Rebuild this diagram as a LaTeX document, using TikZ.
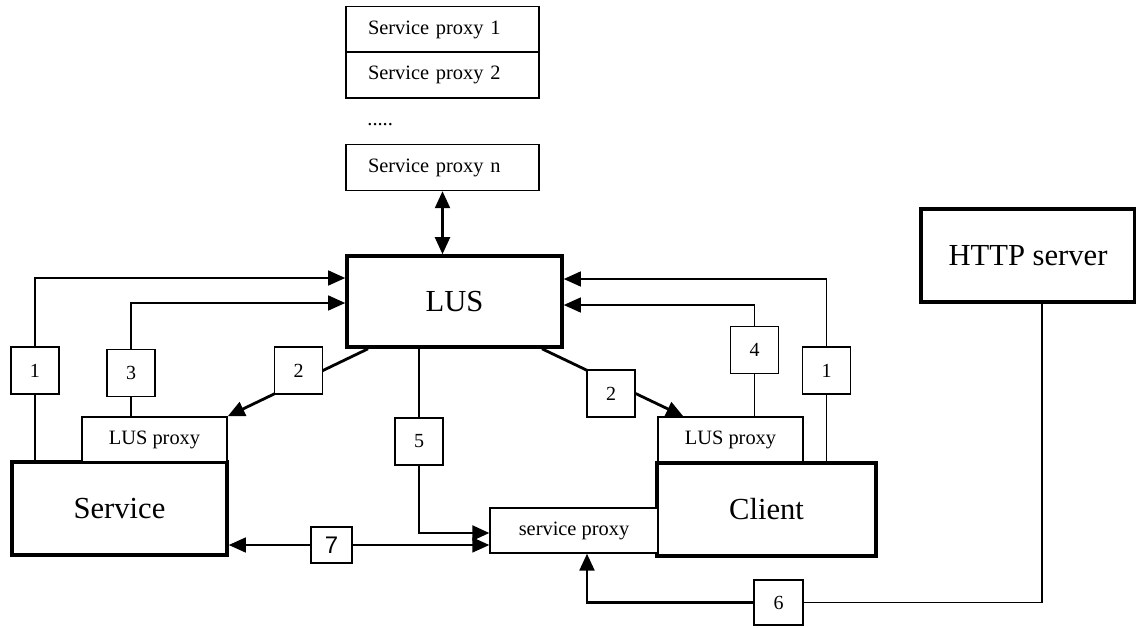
\documentclass[tikz,border=0pt]{standalone}
\usepackage{fontspec}
\setmainfont{Liberation Serif}
\newfontfamily\arialfont{Liberation Sans}
\usetikzlibrary{arrows.meta, positioning, backgrounds}

\begin{document}
\begin{tikzpicture}[x=0.5pt, y=-0.5pt, >={Triangle[length=8.5pt, width=7.5pt]}, line join=miter]
	\tikzset{
		bigbox/.style={draw, line width=1.8pt, fill=white, inner sep=0pt, font=\fontsize{15.3}{18}\selectfont},
		proxybox/.style={draw, line width=0.7pt, fill=white, inner sep=0pt, font=\fontsize{10.2}{12}\selectfont},
		listbox/.style={proxybox, minimum width=96.5pt, minimum height=23pt, text width=74.5pt, inner xsep=11pt, align=left},
		numbox/.style={draw, line width=0.7pt, fill=white, minimum width=24pt, minimum height=23.5pt, inner sep=0pt, font=\fontsize{10}{12}\selectfont},
		link/.style={line width=0.7pt},
		arr/.style={line width=0.7pt, ->},
		diag/.style={line width=1.4pt, ->}
	}
	
	\useasboundingbox (0,0) rectangle (1136,627);
	
	% proxies held in the LUS
	\node[listbox] (sp1) at (442.5,29.5) {Service proxy 1};
	\node[listbox] (sp2) at (442.5,75) {Service proxy 2};
	\node[anchor=base west, inner sep=0pt, font=\fontsize{10.2}{12}\selectfont] (dots) at (367,125) {.....};
	\node[listbox] (spn) at (442.5,167.5) {Service proxy n};
	
	% main boxes
	\node[bigbox, minimum width=107.5pt, minimum height=45.5pt] (lus) at (454.5,301.5) {LUS};
	\node[bigbox, minimum width=107.5pt, minimum height=46.5pt] (service) at (119.5,508.5) {Service};
	\node[bigbox, minimum width=109.5pt, minimum height=46.5pt] (client) at (766.5,509.5) {Client};
	\node[bigbox, minimum width=107pt, minimum height=46.5pt] (http) at (1028,255.5) {HTTP server};
	
	\node[proxybox, minimum width=72.5pt, minimum height=22.5pt] (lproxyL) at (154.5,439.5) {LUS proxy};
	\node[proxybox, minimum width=72.5pt, minimum height=22.5pt] (lproxyR) at (730.5,439.5) {LUS proxy};
	\node[proxybox, minimum width=84pt, minimum height=22.5pt] (sproxy) at (574,530.5) {service proxy};
	
	% step numbers
	\node[numbox] (n1L) at (35,370.5) {1};
	\node[numbox] (n3) at (131,373) {3};
	\node[numbox] (n2L) at (298.5,370.5) {2};
	\node[numbox] (n2R) at (611,393.5) {2};
	\node[numbox] (n4) at (754.5,350) {4};
	\node[numbox] (n1R) at (826.5,370.5) {1};
	\node[numbox] (n5) at (419,441.5) {5};
	\node[numbox, minimum width=24.5pt, minimum height=22.5pt] (n6) at (778.5,602.5) {6};
	\node[numbox, line width=1.1pt, minimum width=20.5pt, minimum height=18pt, font=\arialfont\fontsize{12}{14}\selectfont] (n7) at (331.5,545) {7};
	
	\begin{scope}[on background layer]
		\draw[<->, line width=1.1pt] (spn.south) -- (spn.south |- lus.north);
		
		% 1 and 3 from the service side
		\draw[link] (n1L.south) -- (n1L |- service.north);
		\draw[arr] (n1L.north) |- ([yshift=11.75pt]lus.west);
		\draw[link] (n3.south) -- (n3 |- lproxyL.north);
		\draw[arr] (n3.north) |- ([yshift=-0.75pt]lus.west);
		
		% 1 and 4 from the client side
		\draw[link] (n1R.south) -- (n1R |- client.north);
		\draw[arr] (n1R.north) |- ([yshift=11.25pt]lus.east);
		\draw[link] (n4.south) -- (n4 |- lproxyR.north);
		\draw[arr] (n4.north) |- ([yshift=-1.75pt]lus.east);
		
		% 2: LUS proxies handed out
		\draw[diag] ([xshift=-43.25pt]lus.south) -- (lproxyL.north east);
		\draw[diag] ([xshift=43.75pt]lus.south) -- ([xshift=13pt]lproxyR.north west);
		
		% 5, 6 and 7
		\draw[link] (n5 |- lus.south) -- (n5.north);
		\draw[arr, line width=1.2pt] (n5.south) |- ([yshift=-1.25pt]sproxy.west);
		\draw[link] ([xshift=7pt]http.south) |- (n6.east);
		\draw[arr, line width=1.2pt] (n6.west) -| ([xshift=6.5pt]sproxy.south);
		\draw[arr] (n7.west) -- (service.east |- n7);
		\draw[arr] (n7.east) -- (sproxy.west |- n7);
	\end{scope}
	
\end{tikzpicture}
\end{document}
